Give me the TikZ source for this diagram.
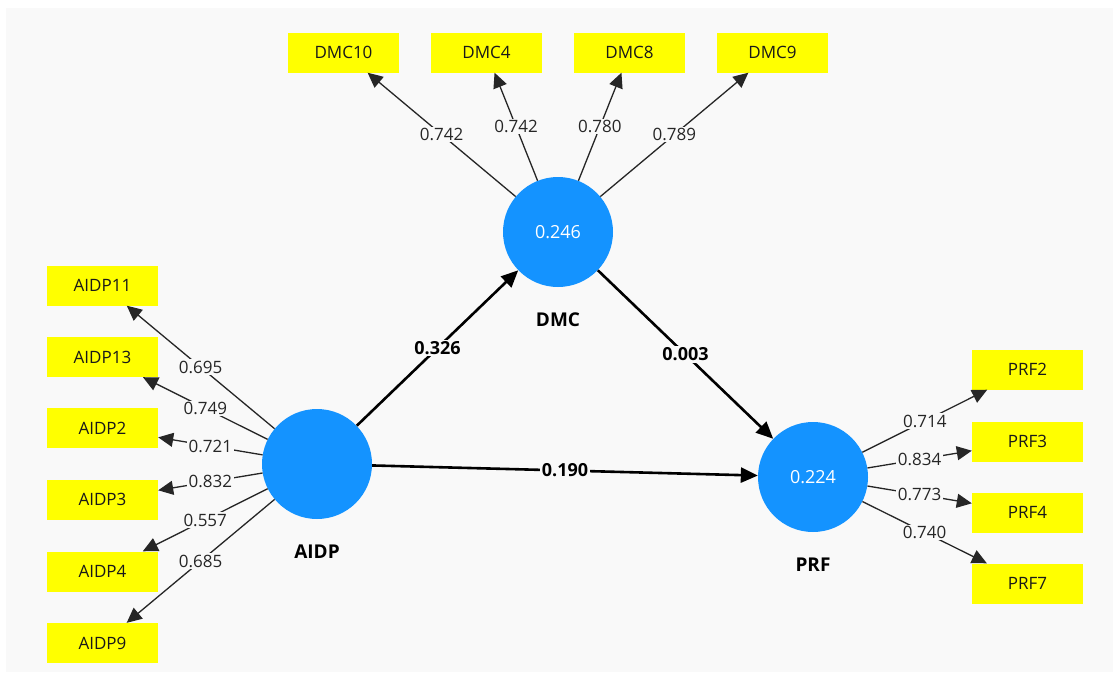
\documentclass[tikz,border=0pt]{standalone}
\usepackage{fontspec}
\setmainfont{Open Sans}
\usetikzlibrary{arrows.meta}
\definecolor{bggray}{HTML}{F9F9F9}
\definecolor{lvblue}{HTML}{1493FF}
\definecolor{lineg}{HTML}{262626}
\definecolor{indyellow}{HTML}{FFFF00}
\tikzset{
  lv/.style={circle,fill=lvblue,minimum size=110pt,inner sep=0pt,text=white,font=\fontsize{18}{21}\selectfont},
  lvname/.style={font=\fontsize{19}{22}\selectfont\bfseries,text=black},
  ind/.style={rectangle,fill=indyellow,minimum width=111pt,minimum height=40pt,inner sep=0pt,font=\fontsize{17}{20}\selectfont,text=black!90},
  load/.style={draw=lineg,line width=1.3pt,-{Triangle[length=15pt,width=14pt]}},
  path/.style={draw=black,line width=2.6pt,-{Triangle[length=17pt,width=15pt]}},
  lbl/.style={fill=bggray,inner sep=1.5pt,font=\fontsize{17}{20}\selectfont,text=black!85},
  blbl/.style={fill=bggray,inner sep=1.5pt,font=\fontsize{18}{21}\selectfont\bfseries,text=black}
}
\begin{document}
\begin{tikzpicture}[x=1pt,y=-1pt]
\useasboundingbox (0,0) rectangle (1113,672);
\fill[white] (0,0) rectangle (1113,672);
\fill[bggray] (6,8) rectangle (1113,672);

% latent variables
\node[lv] (AIDP) at (317,464) {};
\node[lv] (DMC) at (558,232) {0.246};
\node[lv] (PRF) at (813,477) {0.224};
\node[lvname] (AIDPn) at (317,552) {AIDP};
\node[lvname] (DMCn) at (558,320) {DMC};
\node[lvname] (PRFn) at (813,565) {PRF};

% indicators
\node[ind] (DMC10) at (343.5,52.5) {DMC10};
\node[ind] (DMC4) at (486.5,52.5) {DMC4};
\node[ind] (DMC8) at (629.5,52.5) {DMC8};
\node[ind] (DMC9) at (772.5,52.5) {DMC9};

\node[ind] (AIDP11) at (102.5,285.5) {AIDP11};
\node[ind] (AIDP13) at (102.5,357) {AIDP13};
\node[ind] (AIDP2) at (102.5,428) {AIDP2};
\node[ind] (AIDP3) at (102.5,499.5) {AIDP3};
\node[ind] (AIDP4) at (102.5,571.5) {AIDP4};
\node[ind] (AIDP9) at (102.5,643) {AIDP9};

\node[ind] (PRF2) at (1027.5,369.5) {PRF2};
\node[ind] (PRF3) at (1027.5,441.5) {PRF3};
\node[ind] (PRF4) at (1027.5,512.5) {PRF4};
\node[ind] (PRF7) at (1027.5,583.5) {PRF7};

% loadings
\draw[load] (DMC) -- node[lbl] {0.742} (DMC10);
\draw[load] (DMC) -- node[lbl] {0.742} (DMC4);
\draw[load] (DMC) -- node[lbl] {0.780} (DMC8);
\draw[load] (DMC) -- node[lbl] {0.789} (DMC9);

\draw[load] (AIDP) -- node[lbl] {0.695} (AIDP11);
\draw[load] (AIDP) -- node[lbl] {0.749} (AIDP13);
\draw[load] (AIDP) -- node[lbl] {0.721} (AIDP2);
\draw[load] (AIDP) -- node[lbl] {0.832} (AIDP3);
\draw[load] (AIDP) -- node[lbl] {0.557} (AIDP4);
\draw[load] (AIDP) -- node[lbl] {0.685} (AIDP9);

\draw[load] (PRF) -- node[lbl] {0.714} (PRF2);
\draw[load] (PRF) -- node[lbl] {0.834} (PRF3);
\draw[load] (PRF) -- node[lbl] {0.773} (PRF4);
\draw[load] (PRF) -- node[lbl] {0.740} (PRF7);

% structural paths
\draw[path] (AIDP) -- node[blbl] {0.326} (DMC);
\draw[path] (DMC) -- node[blbl] {0.003} (PRF);
\draw[path] (AIDP) -- node[blbl] {0.190} (PRF);
\end{tikzpicture}
\end{document}
